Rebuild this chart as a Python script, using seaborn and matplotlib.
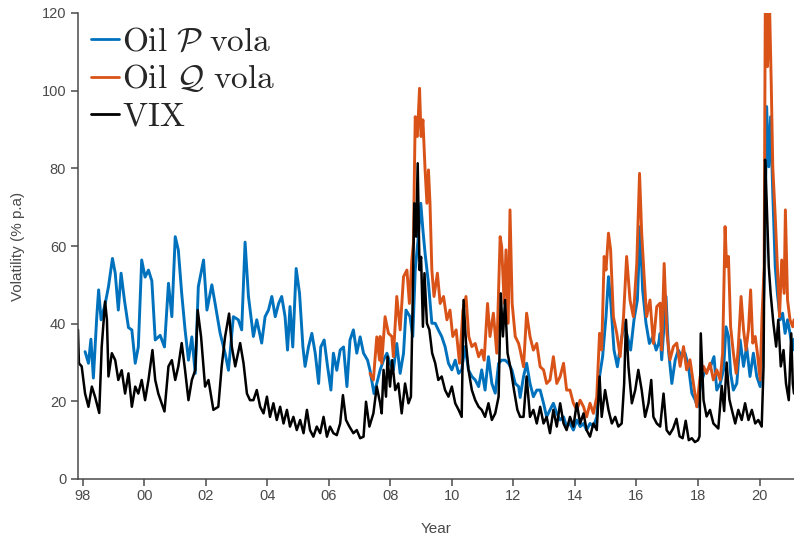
import matplotlib
matplotlib.use("Agg")
import matplotlib.pyplot as plt
import seaborn as sns

# Oil P vola (physical measure)
p_year = [1998.08, 1998.19, 1998.27, 1998.35, 1998.46, 1998.52, 1998.60, 1998.73, 1998.84, 1998.97,
          1999.06, 1999.16, 1999.25, 1999.36, 1999.49, 1999.60, 1999.71, 1999.81, 1999.92, 2000.03,
          2000.14, 2000.25, 2000.36, 2000.52, 2000.66, 2000.79, 2000.90, 2001.01, 2001.11, 2001.22,
          2001.33, 2001.44, 2001.55, 2001.66, 2001.76, 2001.93, 2002.04, 2002.20, 2002.31, 2002.47,
          2002.63, 2002.74, 2002.90, 2003.06, 2003.17, 2003.28, 2003.39, 2003.55, 2003.66, 2003.82,
          2003.93, 2004.04, 2004.15, 2004.26, 2004.37, 2004.47, 2004.58, 2004.66, 2004.74, 2004.83,
          2004.94, 2005.05, 2005.16, 2005.23, 2005.34, 2005.45, 2005.56, 2005.67, 2005.74, 2005.85,
          2005.96, 2006.07, 2006.15, 2006.26, 2006.37, 2006.48, 2006.59, 2006.69, 2006.80, 2006.91,
          2007.02, 2007.13, 2007.26, 2007.34, 2007.47, 2007.56, 2007.67, 2007.78, 2007.89, 2007.99,
          2008.10, 2008.21, 2008.32, 2008.43, 2008.51, 2008.64, 2008.73, 2008.81, 2008.91, 2008.99,
          2009.06, 2009.13, 2009.24, 2009.35, 2009.46, 2009.56, 2009.67, 2009.78, 2009.89, 2010.00,
          2010.11, 2010.22, 2010.32, 2010.43, 2010.54, 2010.65, 2010.76, 2010.87, 2010.97, 2011.08,
          2011.19, 2011.30, 2011.41, 2011.52, 2011.62, 2011.73, 2011.84, 2011.95, 2012.06, 2012.17,
          2012.22, 2012.33, 2012.43, 2012.54, 2012.65, 2012.76, 2012.87, 2012.98, 2013.08, 2013.19,
          2013.30, 2013.41, 2013.52, 2013.63, 2013.73, 2013.84, 2013.95, 2014.06, 2014.17, 2014.28,
          2014.38, 2014.49, 2014.60, 2014.71, 2014.80, 2014.90, 2015.01, 2015.09, 2015.16, 2015.27,
          2015.38, 2015.49, 2015.60, 2015.71, 2015.81, 2015.92, 2016.03, 2016.12, 2016.20, 2016.31,
          2016.42, 2016.53, 2016.64, 2016.72, 2016.77, 2016.82, 2016.96, 2017.04, 2017.15, 2017.26,
          2017.36, 2017.47, 2017.58, 2017.69, 2017.80, 2017.91, 2017.98, 2018.09, 2018.20, 2018.31,
          2018.41, 2018.52, 2018.61, 2018.72, 2018.83, 2018.91, 2018.99, 2019.06, 2019.15, 2019.26,
          2019.37, 2019.48, 2019.58, 2019.69, 2019.80, 2019.91, 2020.02, 2020.10, 2020.17, 2020.23,
          2020.30, 2020.36, 2020.43, 2020.51, 2020.58, 2020.67, 2020.75, 2020.83, 2020.91, 2020.99,
          2021.08, 2021.12]
p_vol = [32.8, 29.8, 36.0, 26.0, 41.8, 48.7, 41.0, 45.0, 49.5, 56.8,
         53.0, 43.5, 53.0, 46.0, 39.0, 38.4, 29.8, 34.0, 56.4, 52.0,
         53.8, 51.0, 35.8, 37.0, 34.0, 50.4, 41.8, 62.4, 59.0, 47.8,
         38.4, 30.6, 36.6, 27.2, 49.5, 56.4, 43.5, 50.0, 45.0, 37.5,
         32.4, 28.0, 41.8, 41.0, 38.4, 61.0, 47.0, 36.7, 41.0, 35.0,
         41.8, 43.5, 47.0, 41.8, 45.2, 47.0, 41.8, 33.2, 44.4, 34.0,
         54.2, 47.8, 34.0, 29.0, 34.0, 37.5, 32.4, 24.6, 34.0, 35.8,
         29.0, 22.9, 32.4, 28.0, 33.2, 34.0, 23.8, 35.8, 38.4, 32.4,
         36.6, 32.4, 30.6, 28.0, 22.0, 24.6, 28.1, 30.6, 32.4, 29.8,
         28.1, 34.9, 27.2, 32.4, 43.5, 41.8, 36.7, 53.8, 62.4, 71.0,
         64.1, 58.1, 50.4, 40.1, 40.1, 38.4, 36.7, 34.1, 29.8, 28.1,
         30.6, 27.2, 28.1, 34.1, 28.1, 26.4, 25.5, 23.8, 28.1, 22.9,
         31.5, 24.6, 22.1, 29.8, 30.6, 30.6, 29.8, 28.1, 24.6, 23.8,
         21.0, 26.4, 29.8, 24.6, 21.2, 22.9, 22.9, 19.5, 16.0, 17.8,
         19.5, 16.9, 15.2, 16.0, 13.5, 14.3, 12.6, 15.2, 13.5, 14.3,
         12.6, 14.3, 13.5, 16.0, 26.4, 31.5, 41.8, 52.1, 46.1, 33.2,
         28.9, 34.9, 40.1, 36.6, 33.2, 41.0, 46.1, 65.0, 48.7, 40.1,
         34.9, 36.6, 33.2, 34.9, 37.5, 30.7, 47.0, 33.2, 24.6, 30.7,
         33.2, 31.5, 32.4, 29.0, 22.1, 20.3, 18.6, 24.6, 27.2, 28.1,
         29.0, 31.5, 22.9, 24.6, 28.1, 39.2, 36.7, 27.2, 22.9, 24.6,
         35.8, 29.0, 34.1, 26.4, 32.4, 26.4, 23.8, 37.5, 56.4, 95.9,
         80.4, 93.3, 73.6, 54.7, 47.8, 41.0, 42.7, 37.5, 41.0, 37.5,
         33.2, 36.0]

# Oil Q vola (risk-neutral measure)
q_year = [2007.34, 2007.45, 2007.56, 2007.65, 2007.67, 2007.72, 2007.83, 2007.94, 2008.05, 2008.10,
          2008.21, 2008.32, 2008.43, 2008.54, 2008.62, 2008.70, 2008.75, 2008.81, 2008.88, 2008.95,
          2009.00, 2009.06, 2009.13, 2009.19, 2009.24, 2009.29, 2009.35, 2009.42, 2009.53, 2009.62,
          2009.73, 2009.84, 2009.94, 2010.03, 2010.14, 2010.25, 2010.36, 2010.46, 2010.55, 2010.65,
          2010.76, 2010.87, 2010.97, 2011.05, 2011.16, 2011.24, 2011.35, 2011.46, 2011.57, 2011.62,
          2011.70, 2011.76, 2011.83, 2011.89, 2011.96, 2012.06, 2012.17, 2012.22, 2012.33, 2012.43,
          2012.54, 2012.65, 2012.76, 2012.87, 2012.98, 2013.08, 2013.19, 2013.30, 2013.41, 2013.52,
          2013.63, 2013.73, 2013.84, 2013.95, 2014.06, 2014.17, 2014.28, 2014.38, 2014.49, 2014.60,
          2014.71, 2014.80, 2014.87, 2014.95, 2015.01, 2015.09, 2015.16, 2015.25, 2015.36, 2015.47,
          2015.58, 2015.68, 2015.79, 2015.90, 2016.01, 2016.10, 2016.17, 2016.25, 2016.33, 2016.44,
          2016.55, 2016.66, 2016.77, 2016.82, 2016.90, 2016.99, 2017.09, 2017.20, 2017.31, 2017.42,
          2017.53, 2017.63, 2017.74, 2017.85, 2017.96, 2018.07, 2018.18, 2018.28, 2018.39, 2018.50,
          2018.61, 2018.72, 2018.80, 2018.88, 2018.93, 2018.99, 2019.06, 2019.15, 2019.24, 2019.31,
          2019.40, 2019.48, 2019.56, 2019.64, 2019.71, 2019.78, 2019.86, 2019.93, 2020.02, 2020.08,
          2020.15, 2020.19, 2020.26, 2020.32, 2020.38, 2020.43, 2020.51, 2020.58, 2020.65, 2020.72,
          2020.80, 2020.84, 2020.91, 2020.99, 2021.08, 2021.12]
q_vol = [27.2, 25.5, 36.6, 30.6, 36.7, 29.8, 41.8, 37.5, 36.7, 31.5,
         47.0, 38.4, 52.1, 53.8, 45.2, 56.4, 60.7, 93.3, 88.2, 100.6,
         88.2, 92.5, 79.6, 71.0, 79.6, 71.0, 53.8, 47.0, 53.0, 45.2,
         47.0, 41.0, 43.5, 36.7, 38.4, 29.8, 43.5, 47.0, 36.7, 34.1,
         34.9, 31.5, 33.2, 30.6, 45.2, 36.7, 42.7, 32.4, 62.4, 59.8,
         45.2, 59.0, 40.1, 69.3, 45.2, 36.7, 34.9, 33.2, 28.9, 42.7,
         36.7, 33.2, 34.9, 28.9, 28.1, 24.6, 25.5, 31.5, 24.6, 26.4,
         29.8, 22.9, 22.9, 19.5, 17.8, 20.3, 18.6, 16.0, 19.5, 16.9,
         21.2, 37.5, 33.2, 57.3, 53.8, 63.3, 59.0, 41.8, 37.5, 31.5,
         41.8, 57.3, 46.1, 41.8, 55.5, 78.7, 63.3, 52.1, 41.8, 46.1,
         34.9, 44.4, 45.3, 33.2, 55.5, 37.5, 30.7, 34.1, 35.0, 29.0,
         34.1, 28.1, 30.7, 24.6, 18.6, 26.4, 29.0, 27.2, 29.8, 25.5,
         28.1, 25.5, 32.4, 65.0, 54.7, 57.3, 39.2, 32.4, 27.2, 34.1,
         47.0, 38.4, 33.2, 38.4, 48.7, 35.0, 36.7, 32.4, 25.5, 41.8,
         54.7, 128.0, 106.2, 124.0, 101.9, 80.4, 67.6, 54.7, 41.8, 56.4,
         47.8, 69.3, 46.1, 41.0, 39.2, 41.0]

# VIX
vix_year = [1997.85, 1997.88, 1997.97, 1998.08, 1998.19, 1998.30, 1998.41, 1998.54, 1998.62, 1998.73,
            1998.79, 1998.84, 1998.95, 1999.06, 1999.16, 1999.27, 1999.38, 1999.49, 1999.60, 1999.71,
            1999.81, 1999.92, 2000.03, 2000.14, 2000.27, 2000.36, 2000.46, 2000.66, 2000.79, 2000.90,
            2001.01, 2001.11, 2001.22, 2001.33, 2001.44, 2001.55, 2001.66, 2001.74, 2001.85, 2001.98,
            2002.09, 2002.25, 2002.41, 2002.52, 2002.63, 2002.76, 2002.85, 2002.96, 2003.12, 2003.23,
            2003.34, 2003.44, 2003.55, 2003.66, 2003.77, 2003.88, 2003.99, 2004.09, 2004.20, 2004.31,
            2004.42, 2004.53, 2004.64, 2004.74, 2004.85, 2004.96, 2005.07, 2005.18, 2005.29, 2005.39,
            2005.50, 2005.61, 2005.72, 2005.83, 2005.94, 2006.04, 2006.15, 2006.26, 2006.37, 2006.46,
            2006.56, 2006.67, 2006.80, 2006.91, 2007.02, 2007.13, 2007.21, 2007.32, 2007.45, 2007.56,
            2007.67, 2007.72, 2007.78, 2007.86, 2007.91, 2007.99, 2008.06, 2008.16, 2008.26, 2008.37,
            2008.48, 2008.59, 2008.67, 2008.73, 2008.78, 2008.84, 2008.89, 2008.95, 2009.00, 2009.06,
            2009.11, 2009.19, 2009.27, 2009.36, 2009.46, 2009.56, 2009.67, 2009.78, 2009.89, 2010.00,
            2010.11, 2010.22, 2010.32, 2010.38, 2010.46, 2010.54, 2010.65, 2010.76, 2010.87, 2010.97,
            2011.08, 2011.19, 2011.30, 2011.41, 2011.52, 2011.59, 2011.66, 2011.73, 2011.81, 2011.92,
            2012.02, 2012.13, 2012.22, 2012.33, 2012.43, 2012.54, 2012.65, 2012.76, 2012.87, 2012.98,
            2013.08, 2013.19, 2013.30, 2013.41, 2013.52, 2013.63, 2013.73, 2013.84, 2013.95, 2014.06,
            2014.17, 2014.28, 2014.38, 2014.49, 2014.60, 2014.71, 2014.80, 2014.87, 2014.98, 2015.09,
            2015.20, 2015.31, 2015.41, 2015.52, 2015.60, 2015.66, 2015.74, 2015.85, 2015.96, 2016.06,
            2016.17, 2016.28, 2016.39, 2016.48, 2016.55, 2016.66, 2016.77, 2016.88, 2016.98, 2017.08,
            2017.19, 2017.30, 2017.40, 2017.50, 2017.60, 2017.70, 2017.80, 2017.90, 2018.00, 2018.05,
            2018.09, 2018.18, 2018.28, 2018.39, 2018.50, 2018.66, 2018.77, 2018.85, 2018.93, 2019.02,
            2019.10, 2019.21, 2019.31, 2019.42, 2019.53, 2019.64, 2019.75, 2019.86, 2019.96, 2020.07,
            2020.13, 2020.18, 2020.23, 2020.30, 2020.36, 2020.45, 2020.54, 2020.61, 2020.69, 2020.78,
            2020.86, 2020.95, 2021.03, 2021.08, 2021.12]
vix_vol = [38.4, 29.8, 29.0, 22.0, 18.6, 23.8, 21.0, 17.0, 34.0, 45.7,
           41.0, 26.4, 32.4, 30.6, 25.5, 28.0, 22.0, 27.2, 18.6, 23.8,
           22.0, 25.5, 20.3, 25.5, 33.2, 25.5, 22.0, 17.4, 29.0, 30.6,
           25.5, 29.0, 35.0, 28.0, 20.3, 25.5, 28.0, 43.5, 36.6, 23.8,
           25.5, 17.8, 18.6, 29.0, 36.6, 42.6, 34.0, 29.0, 35.0, 29.8,
           22.0, 20.3, 20.3, 22.9, 18.6, 16.9, 21.2, 16.0, 19.5, 15.2,
           18.6, 14.3, 17.8, 13.5, 16.0, 12.6, 15.2, 11.8, 17.8, 12.6,
           10.9, 13.5, 11.8, 16.0, 10.9, 13.5, 11.8, 11.3, 14.3, 21.6,
           15.2, 13.5, 11.8, 12.6, 10.5, 10.9, 19.9, 13.5, 16.9, 23.8,
           19.5, 16.9, 28.1, 21.2, 31.5, 23.8, 30.6, 22.9, 24.6, 16.9,
           24.6, 19.5, 21.2, 47.0, 71.0, 62.4, 81.3, 53.8, 57.2, 39.2,
           53.0, 40.1, 38.4, 32.4, 29.8, 25.5, 26.4, 22.9, 21.2, 23.8,
           19.5, 17.8, 16.0, 46.1, 35.0, 28.1, 22.9, 20.3, 18.6, 17.8,
           16.0, 19.5, 15.2, 16.9, 21.2, 47.8, 36.7, 46.1, 32.4, 28.1,
           22.9, 17.8, 16.0, 16.0, 26.4, 16.0, 17.8, 14.3, 18.6, 14.3,
           16.0, 11.8, 17.8, 13.5, 19.5, 14.3, 12.6, 16.0, 13.5, 19.5,
           14.3, 16.9, 12.6, 10.9, 14.3, 12.6, 26.4, 16.0, 22.9, 17.8,
           14.3, 16.0, 13.5, 14.3, 24.6, 41.0, 28.9, 19.5, 22.9, 28.1,
           22.9, 16.0, 19.5, 25.5, 16.0, 14.3, 13.5, 22.0, 12.6, 11.5,
           13.0, 15.5, 11.0, 10.5, 15.0, 10.0, 10.5, 9.5, 10.0, 11.0,
           37.5, 20.3, 16.1, 17.8, 14.3, 13.0, 24.0, 17.5, 30.0, 20.5,
           17.8, 14.3, 17.8, 15.2, 19.5, 15.2, 17.8, 14.3, 15.2, 13.5,
           29.0, 82.2, 71.9, 54.7, 47.8, 40.1, 34.1, 41.0, 29.0, 33.2,
           24.6, 20.3, 37.5, 24.6, 22.0]

tick_years = list(range(1998, 2021, 2))
tick_labels = ["98", "00", "02", "04", "06", "08", "10", "12", "14", "16", "18", "20"]

sns.set_style("ticks")
plt.rcParams["font.family"] = ["Liberation Sans", "DejaVu Sans"]
plt.rcParams["mathtext.fontset"] = "cm"

axis_grey = "#4a4a4a"

fig = plt.figure(figsize=(7.94, 5.40), dpi=100)
ax = fig.add_axes([78 / 794, 1 - 479 / 540, 716 / 794, 466 / 540])

sns.lineplot(x=p_year, y=p_vol, color="#0072BD", linewidth=2.1, sort=False,
             errorbar=None, label=r"$\mathrm{Oil}\ \mathcal{P}\ \mathrm{vola}$", ax=ax)
sns.lineplot(x=q_year, y=q_vol, color="#D95319", linewidth=2.1, sort=False,
             errorbar=None, label=r"$\mathrm{Oil}\ \mathcal{Q}\ \mathrm{vola}$", ax=ax)
sns.lineplot(x=vix_year, y=vix_vol, color="black", linewidth=1.8, sort=False,
             errorbar=None, label=r"$\mathrm{VIX}$", ax=ax)

ax.set_xlim(1997.85, 2021.12)
ax.set_ylim(0, 120)
ax.set_xticks(tick_years)
ax.set_xticklabels(tick_labels)
ax.set_yticks(range(0, 121, 20))

sns.despine(ax=ax)
for side in ["left", "bottom"]:
    ax.spines[side].set_color(axis_grey)
    ax.spines[side].set_linewidth(1.1)
ax.tick_params(direction="out", length=5, width=1.1, colors=axis_grey,
               labelsize=10.5)
ax.tick_params(axis="x", pad=2)

ax.set_xlabel("Year", fontsize=11, color=axis_grey, labelpad=14)
ax.set_ylabel("Volatility (% p.a)", fontsize=11, color=axis_grey, labelpad=12)

leg = ax.legend(loc="upper left", frameon=False, fontsize=24, handlelength=0.82,
                handletextpad=0.1, labelspacing=0.18, borderaxespad=0.0,
                borderpad=0.4, bbox_to_anchor=(0.0, 1.0))
for line in leg.get_lines():
    line.set_linewidth(2.0)

fig.savefig("out.png", dpi=100)
